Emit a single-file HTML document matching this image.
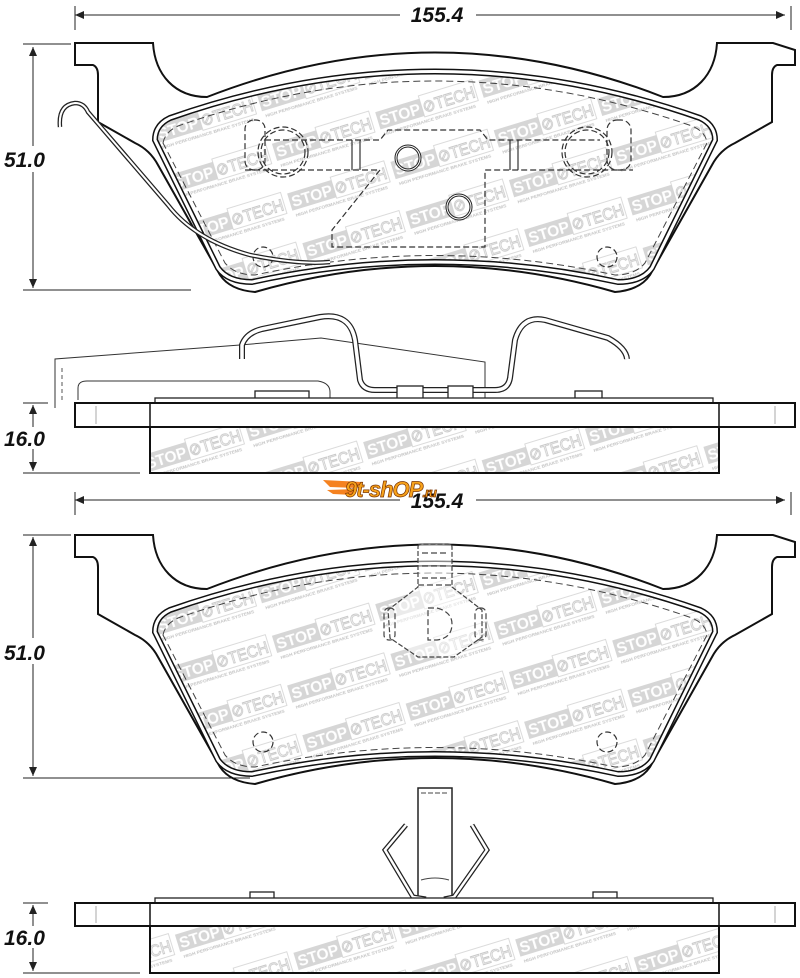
<!DOCTYPE html>
<html><head><meta charset="utf-8"><style>
html,body{margin:0;padding:0;background:#fff;}
svg{display:block;}
.dim{font-family:"Liberation Sans",sans-serif;font-weight:bold;font-style:italic;font-size:21px;fill:#111;}
.wm{font-family:"Liberation Sans",sans-serif;font-weight:bold;font-size:16px;fill:#fff;}
.wt{font-family:"Liberation Sans",sans-serif;font-size:17px;fill:none;stroke:#c8c8c8;stroke-width:0.9;}
.wms{font-family:"Liberation Sans",sans-serif;font-weight:bold;font-size:4.6px;fill:#c4c4c4;}
</style></head><body>
<svg width="800" height="978" viewBox="0 0 800 978" xmlns="http://www.w3.org/2000/svg">
<defs>
<pattern id="wm" width="108" height="52" patternUnits="userSpaceOnUse" patternTransform="rotate(-17)">
<rect x="2" y="9" width="46" height="18" fill="#d6d6d6"/>
<text class="wm" x="4" y="24" textLength="42" lengthAdjust="spacingAndGlyphs">STOP</text>
<text class="wt" x="49" y="24" textLength="54" lengthAdjust="spacingAndGlyphs">⊘TECH</text>
<rect x="48" y="6" width="56" height="22" fill="none" stroke="#d2d2d2" stroke-width="0.8"/>
<text class="wms" x="4" y="34" textLength="96" lengthAdjust="spacingAndGlyphs">HIGH PERFORMANCE BRAKE SYSTEMS</text>
</pattern>
<path id="plate" d="M75,43 L153,43 C155,75 175,97 207,97 Q435,8 663,97 C695,97 715,75 717,43 L773,43 L795,50 L795,65 L777,65 Q772,67 772,75 L772,122 L735,143 Q720,150 712,165 L650,275 Q640,290 615,292 Q435,240 255,292 Q230,290 220,275 L158,165 Q150,150 135,143 L98,122 L98,75 Q98,67 93,65 L75,65 Z"/>
<path id="pad" d="M155,140 Q155,125 170,118 Q435,25 700,118 Q715,125 715,140 L652,268 Q642,282 618,282 Q435,242 252,282 Q228,282 218,268 Z"/>
<path id="padd" d="M163,143 Q165,132 178,126 Q435,36 692,126 Q706,132 707,143 L645,263 Q635,275 615,275 Q435,236 255,275 Q235,275 225,263 Z"/>
<g id="padgrp">
<use href="#plate" fill="none" stroke="#111" stroke-width="2"/>
<use href="#pad" fill="url(#wm)" stroke="none"/>
<use href="#pad" fill="none" stroke="#111" stroke-width="6"/>
<use href="#pad" fill="none" stroke="#fff" stroke-width="3"/>
<use href="#padd" fill="none" stroke="#444" stroke-width="1" stroke-dasharray="7 4"/>
</g>
</defs>

<line x1="75" y1="15" x2="400" y2="15" stroke="#222"/><line x1="476" y1="15" x2="785" y2="15" stroke="#222"/>
<path d="M75,15 l9,-4 v8z M785,15 l-9,-4 v8z" fill="#222"/>
<line x1="75" y1="6" x2="75" y2="30" stroke="#222"/><line x1="791" y1="6" x2="791" y2="30" stroke="#222"/>
<text class="dim" x="437" y="22" text-anchor="middle">155.4</text>
<line x1="23" y1="44" x2="71" y2="44" stroke="#222"/><line x1="23" y1="290" x2="191" y2="290" stroke="#222"/>
<line x1="33" y1="47" x2="33" y2="288" stroke="#222"/>
<path d="M33,47 l-4,9 h8z M33,288 l-4,-9 h8z" fill="#222"/>
<rect x="2" y="146" width="60" height="26" fill="#fff"/>
<text class="dim" x="4" y="167">51.0</text>

<use href="#padgrp"/>
<g fill="none" stroke="#333" stroke-width="1.2" stroke-dasharray="6 3">
<ellipse cx="283" cy="152" rx="25" ry="25"/><ellipse cx="283" cy="152" rx="22" ry="22"/>
<ellipse cx="587" cy="152" rx="25" ry="25"/><ellipse cx="587" cy="152" rx="22" ry="22"/>
<rect x="245" y="120" width="20" height="50" rx="9"/>
<rect x="607" y="120" width="24" height="50" rx="10"/>
<path d="M265,140 H380 L388,130 H480 L488,140 H600"/>
<path d="M245,170 H380 L332,230 V247 H485 V170 H633"/>
<circle cx="263" cy="257" r="10"/><circle cx="607" cy="257" r="10"/>
</g>
<g fill="none" stroke="#333" stroke-width="1.2">
<line x1="352" y1="140" x2="352" y2="170"/><line x1="360" y1="140" x2="360" y2="170"/>
<line x1="510" y1="140" x2="510" y2="170"/><line x1="518" y1="140" x2="518" y2="170"/>
</g>
<circle cx="408" cy="158" r="12" fill="none" stroke="#222" stroke-width="3"/>
<circle cx="408" cy="158" r="12" fill="none" stroke="#fff" stroke-width="1"/>
<circle cx="459" cy="207" r="12" fill="none" stroke="#222" stroke-width="3"/>
<circle cx="459" cy="207" r="12" fill="none" stroke="#fff" stroke-width="1"/>
<path d="M60,127 Q58,105 75,103 Q84,103 88,112 L168,205 Q195,240 250,255 Q300,265 330,262" fill="none" stroke="#222" stroke-width="4.5"/>
<path d="M60,127 Q58,105 75,103 Q84,103 88,112 L168,205 Q195,240 250,255 Q300,265 330,262" fill="none" stroke="#fff" stroke-width="2"/>

<path d="M55,408 L55,359 L240,345 L321,338 L485,362 L485,400" fill="#fff" stroke="#333" stroke-width="1"/>
<line x1="62" y1="368" x2="62" y2="402" stroke="#555" stroke-dasharray="4 3"/>
<path d="M78,400 L78,388 Q78,381 87,381 L318,381 Q330,383 330,392 L330,400" fill="none" stroke="#333"/>
<path d="M242,359 L242,345 Q246,333 262,329 L320,317 Q350,312 355,340 L360,380 Q363,390 375,390 L495,390 Q508,390 510,378 L515,340 Q522,315 545,320 L608,338 Q626,348 627,359" fill="none" stroke="#222" stroke-width="6"/>
<path d="M242,359 L242,345 Q246,333 262,329 L320,317 Q350,312 355,340 L360,380 Q363,390 375,390 L495,390 Q508,390 510,378 L515,340 Q522,315 545,320 L608,338 Q626,348 627,359" fill="none" stroke="#fff" stroke-width="3.5"/>
<g fill="#fff" stroke="#222" stroke-width="1.3">
<rect x="255" y="391" width="54" height="8"/><rect x="397" y="386" width="26" height="13"/><rect x="448" y="386" width="25" height="13"/><rect x="575" y="391" width="27" height="8"/>
<rect x="155" y="398" width="558" height="5"/>
</g>
<rect x="150" y="427" width="569" height="46" fill="url(#wm)" stroke="#111" stroke-width="2"/>
<rect x="75" y="403" width="720" height="24" fill="#fff" stroke="#111" stroke-width="2"/>
<line x1="150" y1="403" x2="150" y2="427" stroke="#111" stroke-width="1.5"/><line x1="719" y1="403" x2="719" y2="427" stroke="#111" stroke-width="1.5"/>
<line x1="96" y1="406" x2="96" y2="424" stroke="#aaa"/><line x1="775" y1="406" x2="775" y2="424" stroke="#aaa"/>
<line x1="23" y1="403" x2="48" y2="403" stroke="#222"/><line x1="23" y1="473" x2="140" y2="473" stroke="#222"/>
<line x1="33" y1="405" x2="33" y2="471" stroke="#222"/>
<path d="M33,405 l-4,9 h8z M33,471 l-4,-9 h8z" fill="#222"/>
<rect x="2" y="427" width="60" height="22" fill="#fff"/>
<text class="dim" x="4" y="446">16.0</text>

<line x1="75" y1="500" x2="785" y2="500" stroke="#222"/>
<path d="M75,500 l9,-4 v8z M785,500 l-9,-4 v8z" fill="#222"/>
<line x1="75" y1="492" x2="75" y2="515" stroke="#222"/><line x1="791" y1="492" x2="791" y2="515" stroke="#222"/>
<rect x="400" y="490" width="76" height="20" fill="#fff"/>
<text class="dim" x="437" y="508" text-anchor="middle">155.4</text>
<path d="M323,480 L362,482 L357,488 L330,487 Z M327,490 L357,489 L353,495 L333,494 Z" fill="#f58220"/>
<text x="345" y="497" style="font-family:'Liberation Sans',sans-serif;font-weight:bold;font-style:italic;font-size:22px;letter-spacing:-1px" fill="#f7a21b" stroke="#7a3300" stroke-width="0.7">9t-shOP<tspan font-size="13">.ru</tspan></text>

<line x1="23" y1="535" x2="71" y2="535" stroke="#222"/><line x1="23" y1="778" x2="250" y2="778" stroke="#222"/>
<line x1="33" y1="537" x2="33" y2="776" stroke="#222"/>
<path d="M33,537 l-4,9 h8z M33,776 l-4,-9 h8z" fill="#222"/>
<rect x="2" y="638" width="60" height="26" fill="#fff"/>
<text class="dim" x="4" y="660">51.0</text>
<g transform="translate(0,492)"><use href="#padgrp"/></g>
<g fill="none" stroke="#333" stroke-width="1.2" stroke-dasharray="6 3">
<circle cx="263" cy="742" r="10"/><circle cx="607" cy="742" r="10"/>
</g>
<path d="M418,547 Q418,544 422,544 L448,544 Q452,544 452,547 L452,587 L482,610 L482,637 L454,657 L418,657 L390,638 L388,610 L418,587 Z" fill="rgba(255,255,255,0.5)" stroke="#444" stroke-width="1.2" stroke-dasharray="5 2"/>
<g stroke="#444" stroke-width="1.2" stroke-dasharray="6 3" fill="none">
<line x1="422" y1="553" x2="448" y2="553"/><line x1="422" y1="566" x2="448" y2="566"/><line x1="422" y1="578" x2="448" y2="578"/><line x1="418" y1="585" x2="452" y2="585"/>
<path d="M428,608 H437 Q452,612 452,624 Q452,638 437,640 H428 Z"/>
<rect x="384" y="608" width="11" height="32" rx="5"/><rect x="475" y="608" width="11" height="32" rx="5"/>
</g>

<rect x="418" y="788" width="34" height="112" fill="#fff" stroke="#222" stroke-width="1.5"/>
<line x1="421" y1="793" x2="449" y2="793" stroke="#444" stroke-dasharray="5 2"/>
<path d="M421,880 Q435,876 449,880" fill="none" stroke="#444"/>
<path d="M406,825 L385,850 L413,897 L426,899 M472,825 L487,850 L454,897 L444,899" fill="none" stroke="#222" stroke-width="5"/>
<path d="M406,825 L385,850 L413,897 L426,899 M472,825 L487,850 L454,897 L444,899" fill="none" stroke="#fff" stroke-width="2.5"/>
<g fill="#fff" stroke="#222" stroke-width="1.3">
<rect x="250" y="892" width="24" height="7"/><rect x="593" y="892" width="24" height="7"/>
<rect x="155" y="898" width="558" height="5"/>
</g>
<rect x="150" y="926" width="569" height="47" fill="url(#wm)" stroke="#111" stroke-width="2"/>
<rect x="75" y="903" width="720" height="23" fill="#fff" stroke="#111" stroke-width="2"/>
<line x1="150" y1="903" x2="150" y2="926" stroke="#111" stroke-width="1.5"/><line x1="719" y1="903" x2="719" y2="926" stroke="#111" stroke-width="1.5"/>
<line x1="96" y1="906" x2="96" y2="923" stroke="#aaa"/><line x1="775" y1="906" x2="775" y2="923" stroke="#aaa"/>
<line x1="23" y1="903" x2="48" y2="903" stroke="#222"/><line x1="23" y1="973" x2="140" y2="973" stroke="#222"/>
<line x1="33" y1="905" x2="33" y2="971" stroke="#222"/>
<path d="M33,905 l-4,9 h8z M33,971 l-4,-9 h8z" fill="#222"/>
<rect x="2" y="926" width="60" height="22" fill="#fff"/>
<text class="dim" x="4" y="945">16.0</text>
</svg>
</body></html>
